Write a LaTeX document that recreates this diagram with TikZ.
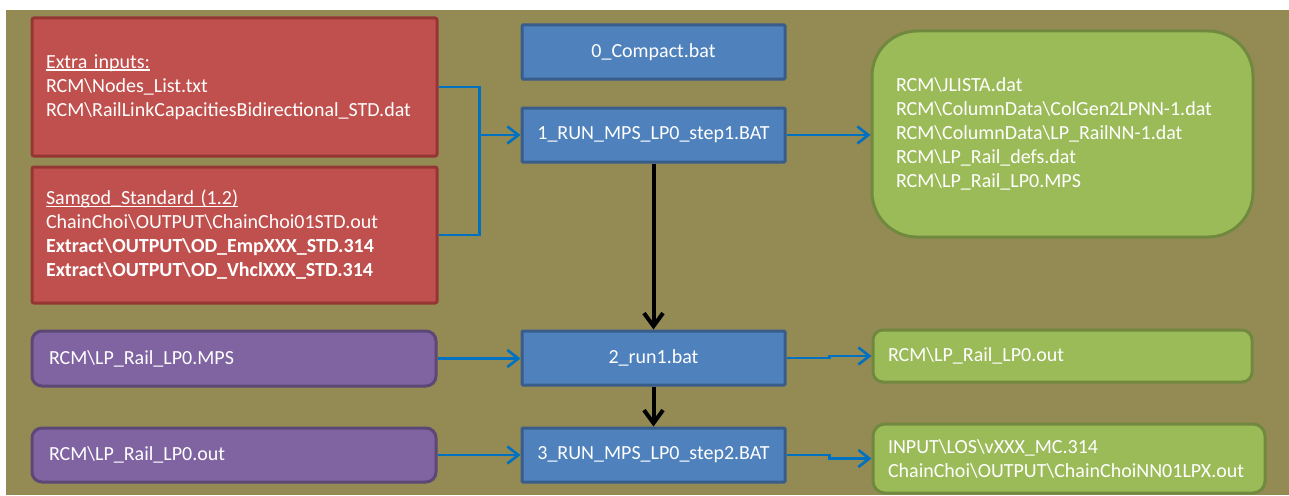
\documentclass[tikz,border=0pt]{standalone}
\usepackage{fontspec}
\setmainfont{Carlito}
\usetikzlibrary{arrows.meta,calc}

\definecolor{olivebg}{HTML}{948A54}
\definecolor{redfill}{HTML}{C0504D}
\definecolor{redline}{HTML}{943634}
\definecolor{bluefill}{HTML}{4F81BD}
\definecolor{blueline}{HTML}{385D8A}
\definecolor{greenfill}{HTML}{9BBB59}
\definecolor{greenline}{HTML}{71893F}
\definecolor{purplefill}{HTML}{8064A2}
\definecolor{purpleline}{HTML}{5C4776}
\definecolor{flowblue}{HTML}{0070C0}

\newcommand{\bsl}{\textbackslash}
% underline sitting close to the baseline
\newcommand{\ulhead}[1]{\setbox0\hbox{#1}\rlap{\rule[-2.4pt]{\wd0}{1.2pt}}\box0}

\tikzset{
  box/.style={draw, line width=3pt, text=white, inner ysep=0pt,
    font=\fontsize{20}{24}\selectfont, align=left},
  redbox/.style={box, fill=redfill, draw=redline, rounded corners=2pt},
  bluebox/.style={box, fill=bluefill, draw=blueline, rounded corners=1pt,
    align=center, minimum width=263pt, minimum height=54pt},
  greenbox/.style={box, fill=greenfill, draw=greenline},
  purplebox/.style={box, fill=purplefill, draw=purpleline, rounded corners=10pt,
    text width=370pt, inner xsep=17pt},
  flow/.style={draw=flowblue, line width=2.6pt,
    -{Straight Barb[length=11pt,width=17pt]}},
  feed/.style={draw=flowblue, line width=2.6pt},
  seq/.style={draw=black, line width=4pt,
    -{Straight Barb[length=13pt,width=19pt]}},
}

\begin{document}
\begin{tikzpicture}[x=1pt,y=-1pt]
\useasboundingbox (0,0) rectangle (1289,495);
\fill[white] (0,0) rectangle (1289,495);
\fill[olivebg] (6,10) rectangle (1289,495);

% input files
\node[redbox, text width=377pt, inner xsep=14pt, minimum height=138pt] (red1) at (234.5,87)
  {\ulhead{Extra inputs:}\\
   RCM\bsl Nodes\_List.txt\\
   RCM\bsl RailLinkCapacitiesBidirectional\_STD.dat};
\node[redbox, text width=377pt, inner xsep=14pt, minimum height=136pt] (red2) at (234.5,235)
  {\ulhead{Samgod\_Standard (1.2)}\\
   ChainChoi\bsl OUTPUT\bsl ChainChoi01STD.out\\
   \textbf{Extract\bsl OUTPUT\bsl OD\_EmpXXX\_STD.314}\\
   \textbf{Extract\bsl OUTPUT\bsl OD\_VhclXXX\_STD.314}};

\node[purplebox, minimum height=55pt] (pur1) at (234,358.5) {RCM\bsl LP\_Rail\_LP0.MPS};
\node[purplebox, minimum height=54pt] (pur2) at (234,455) {RCM\bsl LP\_Rail\_LP0.out};

% batch steps
\node[bluebox] (b0) at (653.5,52)  {0\_Compact.bat};
\node[bluebox] (b1) at (653.5,135) {1\_RUN\_MPS\_LP0\_step1.BAT};
\node[bluebox] (b2) at (653.5,358) {2\_run1.bat};
\node[bluebox] (b3) at (653.5,455) {3\_RUN\_MPS\_LP0\_step2.BAT};

% output files
\node[greenbox, rounded corners=45pt, text width=333pt, inner xsep=24pt, minimum height=206pt]
  (g0) at (1062.5,134)
  {RCM\bsl JLISTA.dat\\
   RCM\bsl ColumnData\bsl ColGen2LPNN-1.dat\\
   RCM\bsl ColumnData\bsl LP\_RailNN-1.dat\\
   RCM\bsl LP\_Rail\_defs.dat\\
   RCM\bsl LP\_Rail\_LP0.MPS};
\node[greenbox, rounded corners=10pt, text width=349pt, inner xsep=15pt, minimum height=52pt]
  (g1) at (1062.5,356) {RCM\bsl LP\_Rail\_LP0.out};
\node[greenbox, rounded corners=12pt, text width=362pt, inner xsep=15pt, minimum height=69pt]
  (g2) at (1069,458.5)
  {INPUT\bsl LOS\bsl vXXX\_MC.314\\
   ChainChoi\bsl OUTPUT\bsl ChainChoiNN01LPX.out};

% connectors
\coordinate (join) at ($(red1.east)!0.5!(b1.west)$);
\draw[feed] (red1.east) -| (join |- b1.west);
\draw[feed] (red2.east) -| (join |- b1.west);
\draw[flow] (join |- b1.west) -- (b1.west);
\draw[flow] (b1.east) -- (b1.east -| g0.west);

\draw[flow] (pur1.east) -- (pur1.east -| b2.west);
\draw[flow] (pur2.east) -- (pur2.east -| b3.west);

\draw[flow] (b2.east) -- ([xshift=43pt]b2.east) |- (g1.west);
\draw[flow] (b3.east) -- ([xshift=43pt]b3.east) |- (g2.west);

\draw[seq] (b1.south) -- (b2.north);
\draw[seq] (b2.south) -- (b3.north);
\end{tikzpicture}
\end{document}
